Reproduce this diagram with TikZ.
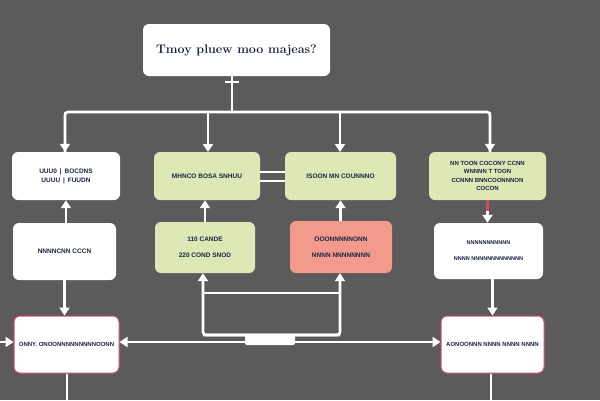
\documentclass[tikz,border=0pt]{standalone}
\usepackage{fontspec}
\setsansfont{Liberation Sans}
\usetikzlibrary{arrows.meta}
\definecolor{bg}{HTML}{5B5B5B}
\definecolor{ink}{HTML}{1C2340}
\definecolor{leaf}{HTML}{DDE8B6}
\definecolor{salmon}{HTML}{F29A8B}
\definecolor{pinkb}{HTML}{D04A7E}
\definecolor{redl}{HTML}{C8506A}
\tikzset{
  box/.style={draw=none, rounded corners=6pt, align=center, text=ink,
    font=\sffamily\bfseries\fontsize{6.5}{9}\selectfont, inner sep=2pt},
  whitebox/.style={box, fill=white},
  greenbox/.style={box, fill=leaf},
  redbox/.style={box, fill=salmon},
  pinkbox/.style={box, fill=white, draw=pinkb, line width=1pt},
  wire/.style={draw=white, line width=2.6pt},
  arr/.style={wire, -{Triangle[width=10pt,length=8pt]}},
  darr/.style={wire, {Triangle[width=10pt,length=8pt]}-{Triangle[width=10pt,length=8pt]}},
}
\begin{document}
\begin{tikzpicture}[x=1pt,y=-1pt]
\fill[bg] (0,0) rectangle (600,400);
\useasboundingbox (0,0) rectangle (600,400);

% top question
\node[whitebox, minimum width=187pt, minimum height=52pt, font=\bfseries\fontsize{12.5}{14}\selectfont] (top) at (236.5,50) {Tmoy pluew moo majeas?};

% row 1
\node[whitebox, minimum width=108pt, minimum height=48pt] (a) at (66,176) {UUU0 \,|\, BOCDNS\\UUUU \,|\, FUUDN};
\node[greenbox, minimum width=106pt, minimum height=48pt] (b) at (207,176) {MHNCO BOSA SNHUU};
\node[greenbox, minimum width=111pt, minimum height=48pt] (c) at (340.5,176) {ISOON MN COUNNNO};
\node[greenbox, minimum width=117pt, minimum height=48pt, font=\sffamily\bfseries\fontsize{6}{8.5}\selectfont] (d) at (487.5,176) {NN TOON COCONY CCNN\\WNNNN T TOON\\CCNNN BNNCOONNNON\\COCON};

% row 2
\node[whitebox, minimum width=103pt, minimum height=57pt] (e) at (64.5,251.5) {NNNNCNN CCCN};
\node[greenbox, minimum width=100pt, minimum height=51pt, font=\sffamily\bfseries\fontsize{6.5}{16}\selectfont] (f) at (205,247.5) {110 CANDE\\220 COND SNOD};
\node[redbox, minimum width=102pt, minimum height=52pt, font=\sffamily\bfseries\fontsize{6.5}{16}\selectfont] (g) at (341,247) {OOONNNNNONN\\NNNN NNNNNNNN};
\node[whitebox, minimum width=109pt, minimum height=56pt, font=\sffamily\bfseries\fontsize{5.5}{16}\selectfont] (h) at (488.5,251) {NNNNNNNNNNN\\NNNN NNNNNNNNNNNNN};

% row 3
\node[pinkbox, minimum width=105pt, minimum height=57pt, font=\sffamily\bfseries\fontsize{6}{9}\selectfont] (i) at (66.5,344.5) {ONNY. ONOONNNNNNNNNOONN};
\node[pinkbox, minimum width=103pt, minimum height=57pt, font=\sffamily\bfseries\fontsize{6}{9}\selectfont] (j) at (492.5,344.5) {AONOONNN NNNN NNNN NNNN};

% bus from top
\coordinate (busc) at (232,112);
\coordinate (busl) at (65,112);
\coordinate (busr) at (490,112);
\draw[wire] (top.south -| busc) -- (busc);
\draw[white, line width=2.6pt] (225,82) -- (239,82);
\draw[wire, rounded corners=3pt] (busl |- a.north) -- (busl) -- (busr) -- (busr |- d.north);
\draw[arr] (busl) -- (busl |- a.north);
\draw[arr] (208,112) -- (208,152);
\draw[arr] (340,112) -- (340,152);
\draw[arr] (busr) -- (busr |- d.north);

% double line between b and c
\draw[white, line width=2pt] ([yshift=-4.5pt]b.east) -- ([yshift=-4.5pt]c.west);
\draw[white, line width=2pt] ([yshift=4.5pt]b.east) -- ([yshift=4.5pt]c.west);

% upward arrows
\draw[arr] (e.north -| a.south) -- (a.south);
\draw[arr] (f.north) -- (b.south -| f.north);
\draw[arr] (g.north -| c.south) -- (c.south);

% d -> h
\draw[redl, line width=2.6pt] (d.south) -- ([yshift=-12pt]d.south);
\draw[arr] ([yshift=-11pt]d.south) -- (h.north -| d.south);

% downward arrows
\draw[arr] (e.south) -- (i.north -| e.south);
\draw[arr] (h.south -| j.north) -- (j.north);

% U connector under f and g
\coordinate (ul) at (203,335);
\coordinate (ur) at (340,335);
\draw[arr, rounded corners=3pt] (ur) -- (ul) -- (f.south -| ul);
\draw[arr, rounded corners=3pt] (ul) -- (ur) -- (g.south -| ur);
\draw[wire] (203,293) -- (340,293);

% main horizontal with bar
\draw[darr] ([yshift=2.5pt]i.east) -- ([yshift=2.5pt]j.west);
\node[fill=white, rounded corners=2pt, minimum width=50pt, minimum height=10pt, inner sep=0pt] (bar) at (270,340) {};

% left edge arrow and bottom exits
\coordinate (lft) at (0,342);
\draw[arr] (lft) -- (lft -| i.west);
\coordinate (ibot) at (67,400);
\coordinate (jbot) at (491,400);
\draw[wire] (i.south -| ibot) -- (ibot);
\draw[wire] (j.south -| jbot) -- (jbot);
\end{tikzpicture}
\end{document}
